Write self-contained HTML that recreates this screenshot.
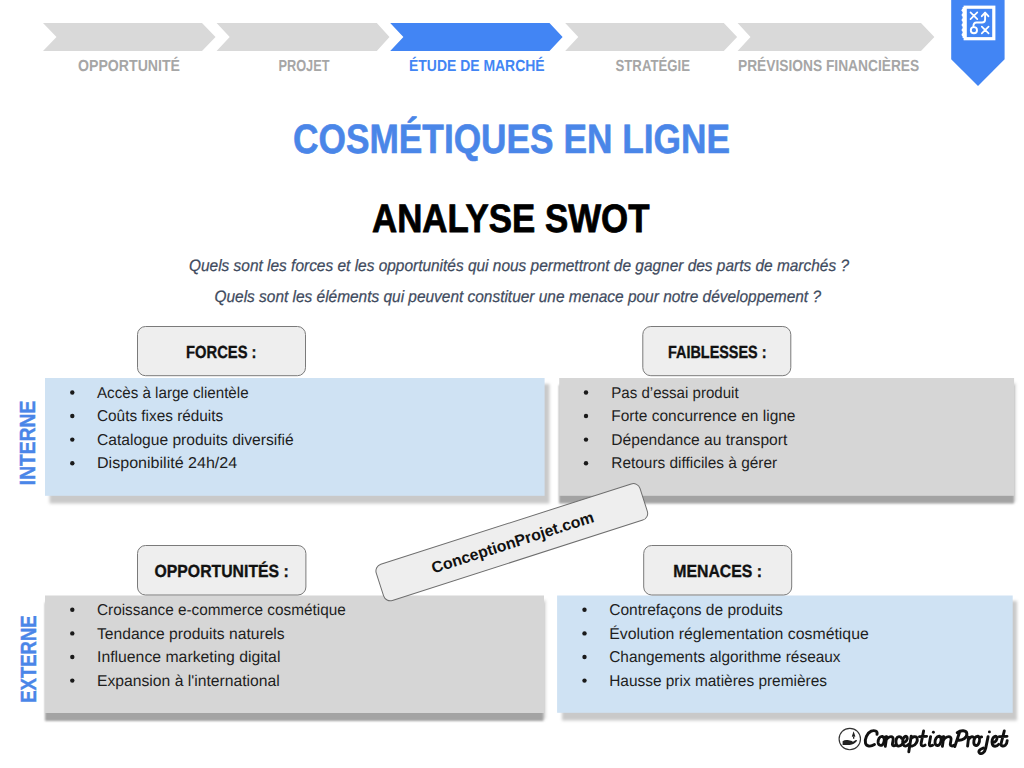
<!DOCTYPE html>
<html><head><meta charset="utf-8">
<style>
html,body{margin:0;padding:0;background:#fff;width:1024px;height:768px;overflow:hidden}
svg{display:block}
text{font-family:"Liberation Sans",sans-serif;text-rendering:geometricPrecision}
</style></head><body>
<svg width="1024" height="768" viewBox="0 0 1024 768">
<defs>
<filter id="blur1" x="-5%" y="-20%" width="110%" height="140%"><feGaussianBlur stdDeviation="1.6"/></filter>
<filter id="blur2" x="-5%" y="-20%" width="110%" height="140%"><feGaussianBlur stdDeviation="1.2"/></filter>
</defs>

<!-- chevrons -->
<g fill="#d9d9d9">
<path d="M43 23H202L215.5 37L202 51H43L56.5 37Z"/>
<path d="M216.6 23H376.8L389.5 37L376.8 51H216.6L229.7 37Z"/>
<path d="M565.2 23H723.8L737.1 37L723.8 51H565.2L578.3 37Z"/>
<path d="M737.6 23H921L934.4 37L921 51H737.6L750.5 37Z"/>
</g>
<path fill="#4285f4" d="M390.2 23H549.5L562.6 37L549.5 51H390.2L403.4 37Z"/>

<g font-weight="bold" font-size="16" fill="#a6a6a6">
<text x="78" y="71.2" textLength="102" lengthAdjust="spacingAndGlyphs">OPPORTUNITÉ</text>
<text x="278.5" y="71.2" textLength="51" lengthAdjust="spacingAndGlyphs">PROJET</text>
<text x="409" y="71.2" textLength="135.6" lengthAdjust="spacingAndGlyphs" fill="#4285f4">ÉTUDE DE MARCHÉ</text>
<text x="615.5" y="71.2" textLength="74.5" lengthAdjust="spacingAndGlyphs">STRATÉGIE</text>
<text x="738" y="71.2" textLength="181.2" lengthAdjust="spacingAndGlyphs">PRÉVISIONS FINANCIÈRES</text>
</g>

<!-- banner -->
<path fill="#4285f4" d="M951.2 0H1004.6V59.2L978 86L951.2 59.2Z"/>
<g fill="none" stroke="#fff" stroke-linecap="round" stroke-linejoin="round">
<rect x="965.2" y="7.2" width="28.6" height="31.5" stroke-width="3.2" stroke-linecap="butt" stroke-linejoin="miter"/>

<path d="M970.5 12.4L977.3 19.2M977.3 12.4L970.5 19.2" stroke-width="1.7"/>
<path d="M981.8 26.6L988.6 33.4M988.6 26.6L981.8 33.4" stroke-width="1.7"/>
<circle cx="973.9" cy="30.2" r="3.1" stroke-width="1.9"/>
<path d="M985.1 13V19.5Q985.1 22.5 982.1 22.5H976.5Q973.4 22.5 973.4 26.6" stroke-width="1.9"/>
<path d="M981.8 16.2L985.1 12.6L988.4 16.2" stroke-width="1.9"/>
</g>

<g fill="#fff"><circle cx="963.3" cy="10.2" r="1.75"/><circle cx="963.3" cy="15.1" r="1.75"/><circle cx="963.3" cy="20.0" r="1.75"/><circle cx="963.3" cy="25.0" r="1.75"/><circle cx="963.3" cy="29.9" r="1.75"/><circle cx="963.3" cy="34.8" r="1.75"/><rect x="962.6" y="7" width="2" height="31"/></g>
<!-- titles -->
<text x="293" y="153.4" font-size="41" font-weight="bold" fill="#4a86e8" stroke="#4a86e8" stroke-width="0.6" textLength="437" lengthAdjust="spacingAndGlyphs">COSMÉTIQUES EN LIGNE</text>
<text x="372" y="231.9" font-size="39.7" font-weight="bold" fill="#000" stroke="#000" stroke-width="0.8" textLength="277.5" lengthAdjust="spacingAndGlyphs">ANALYSE SWOT</text>
<g font-style="italic" font-size="16.5" fill="#3f4b5e" stroke="#3f4b5e" stroke-width="0.25">
<text x="189" y="271.1" textLength="660" lengthAdjust="spacingAndGlyphs">Quels sont les forces et les opportunités qui nous permettront de gagner des parts de marchés ?</text>
<text x="214.5" y="302" textLength="606.5" lengthAdjust="spacingAndGlyphs">Quels sont les éléments qui peuvent constituer une menace pour notre développement ?</text>
</g>

<!-- shadows -->
<rect x="49.5" y="384" width="500" height="119.5" fill="#c9c9c9" filter="url(#blur1)"/>
<rect x="562" y="601" width="455" height="119.5" fill="#c9c9c9" filter="url(#blur1)"/>
<rect x="562" y="383" width="454" height="119" fill="#dedede" filter="url(#blur1)"/>
<rect x="559" y="385" width="455" height="118.5" fill="#a3a3a3" filter="url(#blur2)"/>
<rect x="48" y="600" width="498" height="119" fill="#dedede" filter="url(#blur1)"/>
<rect x="45" y="602.5" width="498.5" height="118.5" fill="#a3a3a3" filter="url(#blur2)"/>

<!-- boxes -->
<rect x="45" y="378" width="499.6" height="117.8" fill="#cfe2f3"/>
<rect x="559.2" y="378" width="454.9" height="117.8" fill="#d6d6d6"/>
<rect x="45" y="595.5" width="499" height="117.5" fill="#d6d6d6"/>
<rect x="557.1" y="595.5" width="455.6" height="117.3" fill="#cfe2f3"/>

<!-- label boxes -->
<g fill="#eeeeee" stroke="#7a7a7a" stroke-width="1">
<rect x="137.5" y="326.5" width="168" height="49.2" rx="8"/>
<rect x="642.8" y="326.5" width="148" height="49.2" rx="8"/>
<rect x="137.5" y="545.5" width="168.4" height="49.5" rx="8"/>
<rect x="643.7" y="545.5" width="148" height="49.5" rx="8"/>
</g>
<g font-weight="bold" font-size="17.5" fill="#111" stroke="#111" stroke-width="0.35">
<text x="186" y="358" textLength="70.5" lengthAdjust="spacingAndGlyphs">FORCES :</text>
<text x="668" y="358" textLength="98.5" lengthAdjust="spacingAndGlyphs">FAIBLESSES :</text>
<text x="154.5" y="577" textLength="134.3" lengthAdjust="spacingAndGlyphs">OPPORTUNITÉS :</text>
<text x="673.3" y="577" textLength="88.7" lengthAdjust="spacingAndGlyphs">MENACES :</text>
</g>

<!-- side labels -->
<g font-weight="bold" font-size="22" fill="#4a86e8" stroke="#4a86e8" stroke-width="0.4">
<text transform="translate(35,485.2) rotate(-90)" x="0" y="0" textLength="84.6" lengthAdjust="spacingAndGlyphs">INTERNE</text>
<text transform="translate(35.5,702.8) rotate(-90)" x="0" y="0" textLength="87.5" lengthAdjust="spacingAndGlyphs">EXTERNE</text>
</g>

<!-- bullets -->
<g fill="#1a1a1a">
<circle cx="72.3" cy="392.5" r="2.2"/><circle cx="72.3" cy="416" r="2.2"/><circle cx="72.3" cy="439.6" r="2.2"/><circle cx="72.3" cy="463.2" r="2.2"/>
<circle cx="586" cy="392.5" r="2.2"/><circle cx="586" cy="416" r="2.2"/><circle cx="586" cy="439.6" r="2.2"/><circle cx="586" cy="463.2" r="2.2"/>
<circle cx="72.3" cy="609.8" r="2.2"/><circle cx="72.3" cy="633.4" r="2.2"/><circle cx="72.3" cy="657" r="2.2"/><circle cx="72.3" cy="680.6" r="2.2"/>
<circle cx="584.5" cy="609.8" r="2.2"/><circle cx="584.5" cy="633.4" r="2.2"/><circle cx="584.5" cy="657" r="2.2"/><circle cx="584.5" cy="680.6" r="2.2"/>
</g>
<g font-size="15.7" fill="#1e1e1e">
<text x="97" y="397.6" textLength="151.6" lengthAdjust="spacingAndGlyphs">Accès à large clientèle</text>
<text x="97" y="421.2" textLength="126.2" lengthAdjust="spacingAndGlyphs">Coûts fixes réduits</text>
<text x="97" y="444.8" textLength="196.7" lengthAdjust="spacingAndGlyphs">Catalogue produits diversifié</text>
<text x="97" y="468.4" textLength="140.2" lengthAdjust="spacingAndGlyphs">Disponibilité 24h/24</text>

<text x="611.3" y="397.6" textLength="127.3" lengthAdjust="spacingAndGlyphs">Pas d’essai produit</text>
<text x="611.3" y="421.2" textLength="184.2" lengthAdjust="spacingAndGlyphs">Forte concurrence en ligne</text>
<text x="611.3" y="444.8" textLength="176" lengthAdjust="spacingAndGlyphs">Dépendance au transport</text>
<text x="611.3" y="468.4" textLength="165.9" lengthAdjust="spacingAndGlyphs">Retours difficiles à gérer</text>

<text x="97" y="615.2" textLength="248.7" lengthAdjust="spacingAndGlyphs">Croissance e-commerce cosmétique</text>
<text x="97" y="638.8" textLength="187.6" lengthAdjust="spacingAndGlyphs">Tendance produits naturels</text>
<text x="97" y="662.4" textLength="183.4" lengthAdjust="spacingAndGlyphs">Influence marketing digital</text>
<text x="97" y="686" textLength="182.8" lengthAdjust="spacingAndGlyphs">Expansion à l'international</text>

<text x="609.2" y="615.2" textLength="173.5" lengthAdjust="spacingAndGlyphs">Contrefaçons de produits</text>
<text x="609.2" y="638.8" textLength="259.6" lengthAdjust="spacingAndGlyphs">Évolution réglementation cosmétique</text>
<text x="609.2" y="662.4" textLength="231.4" lengthAdjust="spacingAndGlyphs">Changements algorithme réseaux</text>
<text x="609.2" y="686" textLength="217.8" lengthAdjust="spacingAndGlyphs">Hausse prix matières premières</text>
</g>

<!-- watermark -->
<g transform="translate(511.8,542.2) rotate(-17.8)">
<rect x="-138.5" y="-19" width="277" height="38" rx="7" fill="#eeeeee" stroke="#6e6e6e" stroke-width="1"/>
<text x="-84.1" y="5.8" font-size="15.8" font-weight="bold" fill="#111" textLength="169.5" lengthAdjust="spacingAndGlyphs">ConceptionProjet.com</text>
</g>

<!-- logo -->
<g>
<circle cx="849.8" cy="739" r="10.7" fill="#fff" stroke="#333" stroke-width="1.15"/>
<path d="M842.6 741.2q2.2-1.6 5.2-1.1l4.2.8q1.6.6 0 1.5l-3.2.3q3.6.2 7-2.6q1.4-.6 1.1.9q-2.6 3.6-7.2 3.9h-7.1z" fill="#222"/>
<path d="M853.6 731.2l-1.8 5.2q1.8.9 3.6 0z M853 736.4h1.3v2.4h-1.3z" fill="#222"/>
<g fill="none" stroke="#111" stroke-width="2.9" stroke-linecap="round" stroke-linejoin="round">
<path d="M877 734.3C877.8 731.2 874.5 729.8 871.2 731.2C867 733 864.5 739 865.5 743.2C866.3 746.5 870.5 747 874.5 744.5"/>
<path d="M882.5 736.4C879.5 736 877.8 739.5 878.1 742.7C878.5 746 882.2 746.4 883.5 743.2C884.5 740.7 884.4 737.5 882.5 736.4C883.5 737.5 885 737.3 886 736.9"/>
<path d="M886.7 736.6L885.3 746.2M886 740.5C887.6 737 891.2 735.6 892.9 737.6C893.9 739 892.3 742.5 892.4 744.5C892.6 746.3 894.6 746.1 895.6 745.2"/>
<path d="M901.5 738.2C900.5 736 897.6 736 896.5 738.6C895.4 741.6 895.8 745.9 898.5 746.1C900 746.2 901.5 745.2 902.3 744.2"/>
<path d="M903.6 742.5C906.1 742 907.9 739.5 907.1 737.2C906.1 735.5 903.6 736.5 902.9 739.5C902.3 742.5 902.9 746.1 905.6 746.1C906.9 746.1 908.1 745.2 908.7 744.3"/>
<path d="M911.2 736.2L908.8 751.8M910.6 739.2C912.2 736.6 916.1 735.6 917.1 738.1C918.1 741.1 915.6 745.6 912.1 746.1C911.1 746.2 910.2 745.7 909.9 745.2"/>
<path d="M923.6 731L921.1 743.5C920.8 745.8 922.9 746.6 925.1 745.1M919.4 736.6L926.6 736.4"/>
<path d="M930.6 736.6L929.3 744C929.1 745.9 930.6 746.4 932.6 745.3"/>
<path d="M939.5 736.3C936.5 736 934.8 739.5 935 742.8C935.3 746 939 746.5 940.3 743.3C941.3 740.8 941.2 737.4 939.5 736.3C940.5 737.4 942 737.2 943 736.9"/>
<path d="M943.8 736.6L942.4 746.3M943.2 740.5C945 737 949 735.6 950.8 737.6C951.8 739 950.2 742.5 950.3 744.5C950.5 746.3 952.5 746.2 953.6 745.3"/>
<path d="M959.9 731.2L954.8 746.5M957.2 732.6C960.8 730 966.6 729.9 966.9 733.8C967.1 738 962 740.5 958.2 740.2"/>
<path d="M968.6 737.2L967.6 746.1M968.2 740.3C969.5 737.2 971.6 736.1 973.6 737.3"/>
<path d="M978.1 736.3C975.1 736 973.6 739.5 973.8 742.8C974.1 746 977.6 746.5 978.8 743.3C979.8 740.8 979.8 737.4 978.1 736.3C979.1 737.4 980.6 737.2 981.6 736.9"/>
<path d="M988.1 736.6L985.6 748.6C984.9 752.6 981.6 754.6 979.6 753.1C977.9 751.6 979.6 749.1 983.1 748.1"/>
<path d="M992.9 742.5C995.6 742 997.6 739.5 996.9 737.2C995.9 735.5 993.1 736.5 992.3 739.5C991.6 742.5 992.1 746.2 995.1 746.2C996.6 746.2 997.9 745.3 998.7 744.3"/>
<path d="M1004.3 730.9L1001.1 743.5C1000.6 746 1003.1 746.8 1005.1 745.3C1006.6 744 1007.2 742 1007.2 740.6M999.1 736.6L1007 736.4"/>
</g>
<g fill="#111"><circle cx="933.4" cy="732.2" r="1.45"/><circle cx="989.4" cy="731.9" r="1.45"/></g>
</g>
</svg>
</body></html>
